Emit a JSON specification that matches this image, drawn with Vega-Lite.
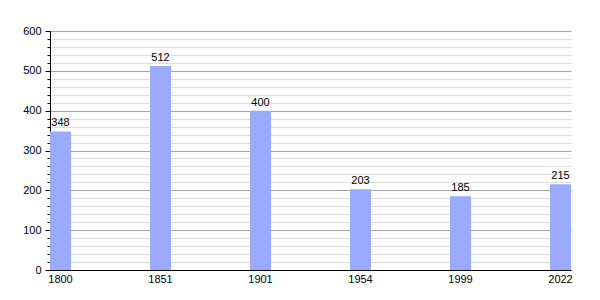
{
  "$schema": "https://vega.github.io/schema/vega-lite/v6.json",
  "width": 521,
  "height": 239,
  "autosize": {"type": "none"},
  "padding": {"left": 50, "top": 31, "right": 29, "bottom": 30},
  "background": "white",
  "config": {
    "view": {"stroke": null},
    "font": "Liberation Sans",
    "axis": {"labelFont": "Liberation Sans", "labelFontSize": 11, "labelColor": "#000"}
  },
  "data": {"values": [
    {"year": "1800", "pop": 348},
    {"year": "1851", "pop": 512},
    {"year": "1901", "pop": 400},
    {"year": "1954", "pop": 203},
    {"year": "1999", "pop": 185},
    {"year": "2022", "pop": 215}
  ]},
  "encoding": {
    "x": {
      "field": "year", "type": "ordinal", "sort": null,
      "scale": {"paddingInner": 0.79, "paddingOuter": 0},
      "axis": {"title": null, "labelAngle": 0, "ticks": false, "domainColor": "#000", "labelPadding": 3, "grid": false}
    }
  },
  "layer": [
    {
      "mark": {"type": "bar", "color": "#99aaff"},
      "encoding": {
        "y": {
          "field": "pop", "type": "quantitative",
          "scale": {"domain": [0, 600], "nice": false},
          "axis": {
            "title": null, "orient": "left", "labels": false, "domain": false,
            "values": [20,40,60,80,120,140,160,180,220,240,260,280,320,340,360,380,420,440,460,480,520,540,560,580],
            "grid": true, "gridColor": "#dddddd", "gridOpacity": 1,
            "tickSize": 3, "tickColor": "#000"
          }
        }
      }
    },
    {
      "mark": {"type": "text", "baseline": "bottom", "dy": -3, "fontSize": 11, "color": "#000", "font": "Liberation Sans"},
      "encoding": {
        "y": {
          "field": "pop", "type": "quantitative",
          "axis": {
            "title": null, "orient": "left",
            "values": [0,100,200,300,400,500,600],
            "grid": true, "gridColor": "#a6a6a6", "gridOpacity": 1,
            "tickSize": 5, "tickColor": "#000", "domainColor": "#000", "labelPadding": 4
          }
        },
        "text": {"field": "pop", "type": "quantitative"}
      }
    }
  ],
  "resolve": {"axis": {"y": "independent"}}
}
